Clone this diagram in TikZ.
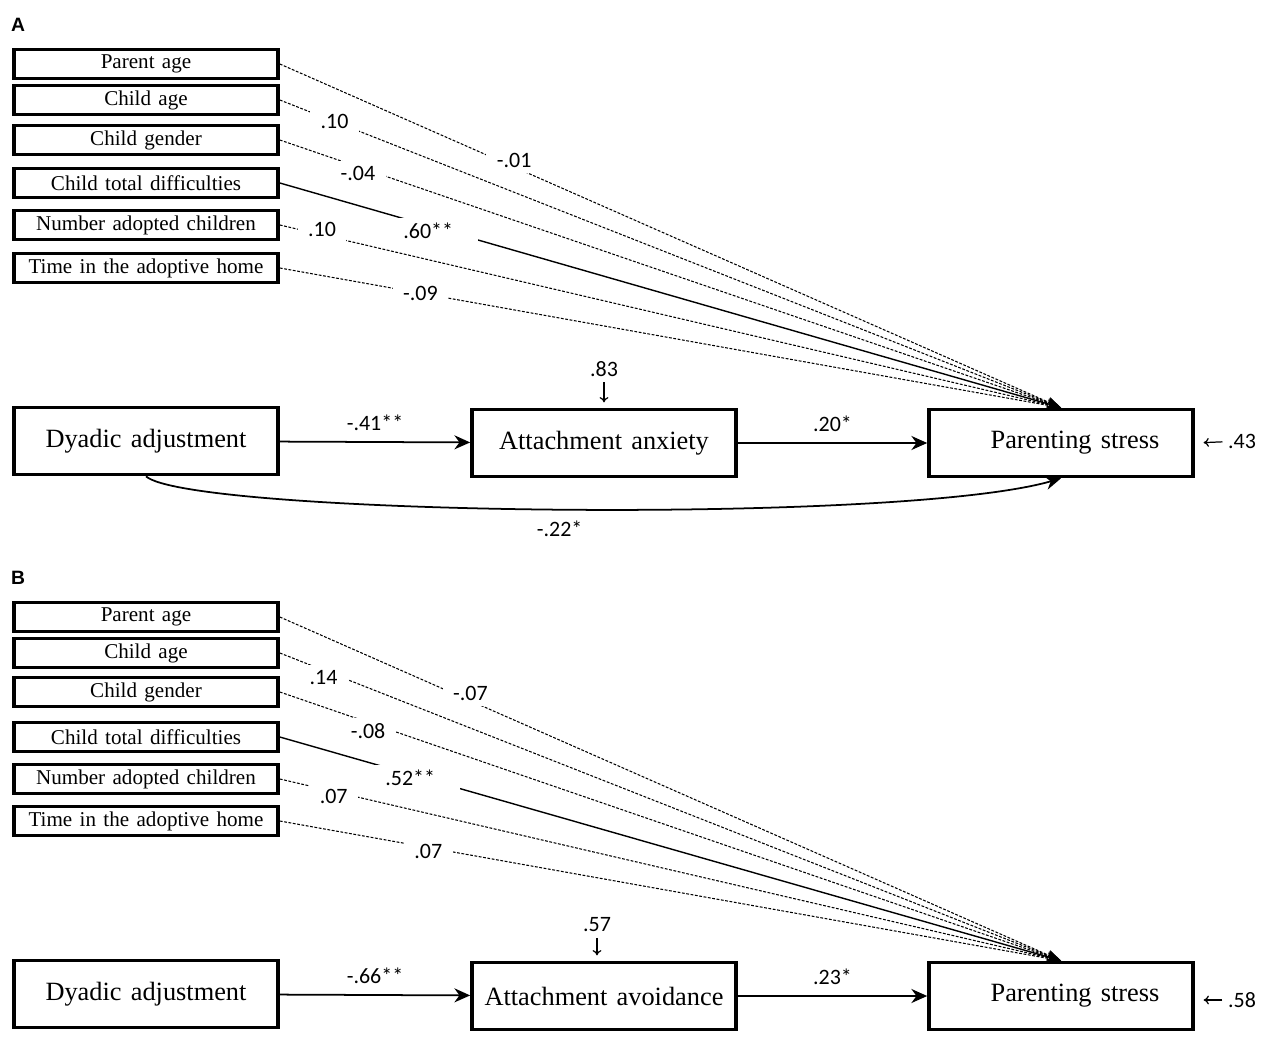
\documentclass[tikz,border=0pt]{standalone}
\usepackage{fontspec}
\setmainfont{Liberation Serif}[WordSpace=1.4]
\newfontfamily\coeffont{Carlito}
\newfontfamily\panelfont{Liberation Sans}
\usetikzlibrary{arrows.meta}

\begin{document}
\begin{tikzpicture}[x=0.02cm, y=-0.02cm,
    covbox/.style={draw, line width=2.1pt, minimum width=5.28cm, minimum height=0.58cm, inner sep=0pt, font=\fontsize{12}{14}\selectfont},
    varbox/.style={draw, line width=2.1pt, minimum width=5.28cm, minimum height=1.34cm, inner sep=0pt, font=\fontsize{15}{18}\selectfont},
    panel/.style={font=\panelfont\bfseries\fontsize{11}{13}\selectfont, inner sep=0pt},
    coef/.style={font=\coeffont\fontsize{12.5}{14}\selectfont, inner sep=1pt},
    gapcoef/.style={coef, fill=white, inner xsep=6pt, inner ysep=3pt},
    covline/.style={-{Stealth[length=8pt,width=6pt]}, line width=0.6pt, dash pattern=on 1.6pt off 0.9pt},
    sigline/.style={-{Stealth[length=8pt,width=6pt]}, line width=0.8pt},
    mainarrow/.style={-{Stealth[length=9pt,width=8pt]}, line width=1pt},
    resid/.style={-{To[length=3pt,width=5pt]}, line width=0.7pt}]
  \useasboundingbox (0,0) rectangle (1265,1044);

  % Panel A
  \node[panel] (A) at (18,25) {A};

  % Covariates A
  \node[covbox] (pa1) at (146,64) {Parent age};
  \node[covbox] (ca1) at (146,100) {Child age};
  \node[covbox] (cg1) at (146,140) {Child gender};
  \node[covbox] (ctd1) at (146,183) {Child total difficulties};
  \node[covbox] (nac1) at (146,225) {Number adopted children};
  \node[covbox] (tah1) at (146,268) {Time in the adoptive home};

  % Model A
  \node[varbox] (dyad1) at (146,441) {Dyadic adjustment};
  \node[varbox] (anx1) at (604,443) {Attachment anxiety};
  \node[varbox] (stress1) at (1061,443) {\hspace*{0.56cm}Parenting stress};
  \node[coef] (e1) at (604,369) {.83};
  \node[coef] (e2) at (1242,441) {.43};

  % Edges A
  \draw[covline] (pa1.east) -- node[gapcoef,pos=.30,yshift=4pt] {-.01} (stress1.north);
  \draw[covline] (ca1.east) -- node[gapcoef,pos=.07] {.10} (stress1.north);
  \draw[covline] (cg1.east) -- node[gapcoef,pos=.10,yshift=-4pt] {-.04} (stress1.north);
  \draw[sigline] (ctd1.east) -- node[gapcoef,pos=.19,yshift=-3pt,inner xsep=14pt] {.60**} (stress1.north);
  \draw[covline] (nac1.east) -- node[gapcoef,pos=.054,yshift=3pt] {.10} (stress1.north);
  \draw[covline] (tah1.east) -- node[gapcoef,pos=.18] {-.09} (stress1.north);
  \draw[mainarrow] (dyad1) -- node[coef,above=5pt] {-.41**} (anx1);
  \draw[mainarrow] (anx1) -- node[coef,above=5pt] {.20*} (stress1);
  \draw[mainarrow] (dyad1.south) .. controls (190,515) and (900,525) .. (stress1.south)
    node[coef,pos=.5,below=5pt] {-.22*};
  \draw[resid,shorten <=2pt,shorten >=3pt] (e1) -- (anx1.north);
  \draw[resid,shorten <=2pt,shorten >=5pt] (e2) -- (stress1.east);

  % Panel B
  \node[panel] (B) at (18,578) {B};

  % Covariates B
  \node[covbox] (pa2) at (146,617) {Parent age};
  \node[covbox] (ca2) at (146,653) {Child age};
  \node[covbox] (cg2) at (146,692) {Child gender};
  \node[covbox] (ctd2) at (146,737) {Child total difficulties};
  \node[covbox] (nac2) at (146,779) {Number adopted children};
  \node[covbox] (tah2) at (146,821) {Time in the adoptive home};

  % Model B
  \node[varbox] (dyad2) at (146,994) {Dyadic adjustment};
  \node[varbox] (avo2) at (604,996) {Attachment avoidance};
  \node[varbox] (stress2) at (1061,996) {\hspace*{0.56cm}Parenting stress};
  \node[coef] (e3) at (597,925) {.57};
  \node[coef] (e4) at (1242,1000) {.58};

  % Edges B
  \draw[covline] (pa2.east) -- node[gapcoef,pos=.244,yshift=4pt] {-.07} (stress2.north);
  \draw[covline] (ca2.east) -- node[gapcoef,pos=.056,yshift=-4pt] {.14} (stress2.north);
  \draw[covline] (cg2.east) -- node[gapcoef,pos=.113,yshift=-5pt] {-.08} (stress2.north);
  \draw[sigline] (ctd2.east) -- node[gapcoef,pos=.167,yshift=-2pt,inner xsep=14pt] {.52**} (stress2.north);
  \draw[covline] (nac2.east) -- node[gapcoef,pos=.069,yshift=-3pt] {.07} (stress2.north);
  \draw[covline] (tah2.east) -- node[gapcoef,pos=.19,yshift=-2pt] {.07} (stress2.north);
  \draw[mainarrow] (dyad2) -- node[coef,above=5pt] {-.66**} (avo2);
  \draw[mainarrow] (avo2) -- node[coef,above=5pt] {.23*} (stress2);
  \draw[resid,shorten <=2pt,shorten >=3pt] (e3) -- (e3 |- avo2.north);
  \draw[resid,shorten <=2pt,shorten >=5pt] (e4) -- (e4 -| stress2.east);
\end{tikzpicture}
\end{document}
